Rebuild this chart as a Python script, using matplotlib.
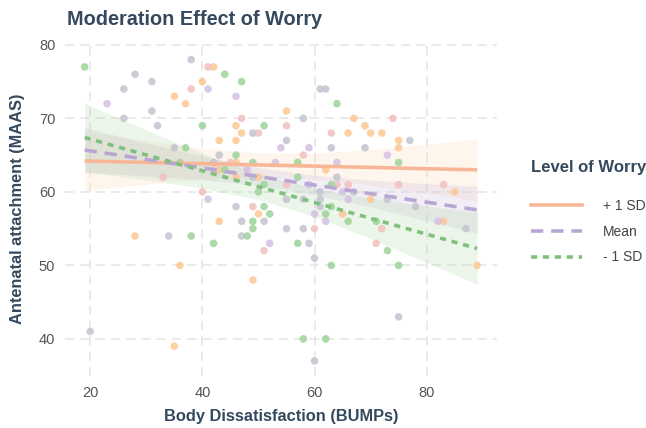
import numpy as np
import matplotlib.pyplot as plt
from matplotlib.lines import Line2D

plt.rcParams['font.family'] = ['Liberation Sans', 'DejaVu Sans']

# scatter points, grouped by the colour they show in the picture
orange_x = [42, 40, 35, 37, 46, 47, 43, 46, 46, 43, 46, 43, 28, 36, 35, 55, 67, 69, 66, 70,
            72, 75, 75, 62, 50, 65, 50, 70, 49, 85, 89, 83]
orange_y = [77, 75, 73, 72, 69, 68, 67, 67, 64, 63, 62, 56, 54, 50, 39, 71, 70, 69, 68, 68,
            68, 67, 66, 63, 62, 57, 57, 59, 48, 60, 50, 56]
purple_x = [41, 23, 46, 48, 41, 53, 64, 59, 65, 58, 66, 60, 62, 52, 73, 82, 54, 59]
purple_y = [74, 72, 73, 63, 59, 64, 64, 61, 60, 59, 59, 57, 56, 53, 65, 56, 66, 66]
pink_x = [41, 38, 47, 45, 42, 33, 40, 50, 55, 63, 58, 55, 64, 66, 49, 72, 60, 51, 71, 75, 83, 74]
pink_y = [77, 74, 70, 64, 63, 62, 60, 68, 69, 68, 65, 61, 61, 61, 58, 55, 55, 52, 53, 61, 61, 70]
grey_x = [38, 28, 31, 26, 26, 32, 43, 42, 46, 47, 34, 47, 20, 61, 62, 58, 49, 55, 69, 49,
          61, 67, 55, 73, 51, 55, 58, 59, 60, 75, 60, 87, 63, 64, 61, 61, 77, 78, 31, 35]
grey_y = [78, 76, 75, 74, 70, 69, 65, 64, 58, 56, 54, 54, 41, 74, 74, 70, 68, 67, 66, 62,
          60, 60, 59, 59, 56, 55, 55, 53, 51, 43, 37, 55, 66, 62, 59, 58, 67, 58, 71, 66]
green_x = [19, 44, 47, 40, 37, 46, 36, 44, 38, 48, 42, 64, 51, 49, 57, 75, 57, 51, 50, 63,
           51, 63, 52, 62, 49, 66, 71, 49, 57, 73, 63, 75, 58, 62]
green_y = [77, 76, 75, 69, 66, 65, 64, 63, 54, 54, 53, 72, 69, 64, 64, 64, 62, 61, 60, 61,
           58, 58, 57, 57, 56, 56, 56, 55, 53, 52, 50, 50, 40, 40]

# fitted lines and confidence bands, read at a few x positions
band_x = [19, 30, 40, 50, 60, 70, 80, 89]
high_fit = [64.2, 64.01, 63.84, 63.67, 63.5, 63.33, 63.15, 63.0]
high_lo = [60.2, 61.06, 61.71, 62.04, 61.73, 60.9, 59.83, 58.8]
high_hi = [68.2, 66.96, 65.97, 65.3, 65.27, 65.76, 66.47, 67.2]
mean_fit = [65.7, 64.42, 63.26, 62.09, 60.93, 59.76, 58.6, 57.55]
mean_lo = [62.65, 62.18, 61.65, 60.87, 59.6, 57.91, 56.07, 54.35]
mean_hi = [68.75, 66.66, 64.87, 63.31, 62.26, 61.61, 61.13, 60.75]
low_fit = [67.4, 65.03, 62.87, 60.71, 58.56, 56.4, 54.24, 52.3]
low_lo = [62.75, 61.64, 60.5, 58.97, 56.64, 53.65, 50.41, 47.41]
low_hi = [72.05, 68.42, 65.24, 62.45, 60.48, 59.15, 58.07, 57.19]

labels = ['+ 1 SD', 'Mean', '- 1 SD']
dark = '#34495E'

fig = plt.figure(figsize=(6.46, 4.28), dpi=100)
ax = fig.add_axes([0.1006, 0.1215, 0.6684, 0.7805])

# bands
ax.fill_between(band_x, high_lo, high_hi, color='#FDD9B8', alpha=0.25, lw=0, zorder=1)
ax.fill_between(band_x, mean_lo, mean_hi, color='#CDBDDD', alpha=0.25, lw=0, zorder=1)
ax.fill_between(band_x, low_lo, low_hi, color='#B0DAAA', alpha=0.25, lw=0, zorder=1)

# points
pts = [(orange_x, orange_y, '#FDC894'), (purple_x, purple_y, '#D4C0E4'),
       (pink_x, pink_y, '#F2C0BE'), (grey_x, grey_y, '#C4C4CF'),
       (green_x, green_y, '#9ED39A')]
for px, py, c in pts:
    ax.scatter(px, py, s=30, color=c, alpha=0.85, edgecolors='none', zorder=2)

# fitted lines
ax.plot(band_x, high_fit, color='#F7B796', lw=2.6, solid_capstyle='butt', zorder=3)
ax.plot(band_x, mean_fit, color='#B9A7D3', lw=2.6, linestyle=(0, (3.4, 2.2)), zorder=3)
ax.plot(band_x, low_fit, color='#7FC07D', lw=2.6, linestyle=(0, (1.7, 1.6)), zorder=3)

ax.set_xlim(15.5, 92.5)
ax.set_ylim(34.95, 80.4)
ax.set_xticks([20, 40, 60, 80])
ax.set_yticks([40, 50, 60, 70, 80])
ax.grid(True, color='#E4E4E4', lw=1.1, linestyle=(0, (6, 4)), zorder=0)
ax.set_axisbelow(True)
for s in ax.spines.values():
    s.set_visible(False)
ax.tick_params(length=0, labelsize=10.5, labelcolor='#555555', pad=7)

ax.set_xlabel('Body Dissatisfaction (BUMPs)', fontsize=11.8, fontweight='bold', color=dark, labelpad=7)
ax.set_ylabel('Antenatal attachment (MAAS)', fontsize=11.8, fontweight='bold', color=dark, labelpad=10)
fig.text(0.104, 0.955, 'Moderation Effect of Worry', fontsize=14.3, fontweight='bold',
         color=dark, va='center', ha='left')

handles = [Line2D([], [], color='#F7B796', lw=2.6),
           Line2D([], [], color='#B9A7D3', lw=2.6, linestyle=(0, (3.4, 2.2))),
           Line2D([], [], color='#7FC07D', lw=2.6, linestyle=(0, (1.7, 1.6)))]
leg = fig.legend(handles, labels, loc='upper left', bbox_to_anchor=(0.802, 0.655),
                 frameon=False, fontsize=10, handlelength=3.7, handletextpad=1.5,
                 labelspacing=0.85, title='Level of Worry', alignment='left',
                 title_fontproperties={'weight': 'bold', 'size': 12})
leg.get_title().set_color(dark)
for t in leg.get_texts():
    t.set_color('#444444')
leg._legend_box.sep = 17

fig.savefig('out.png', dpi=100, facecolor='white')
